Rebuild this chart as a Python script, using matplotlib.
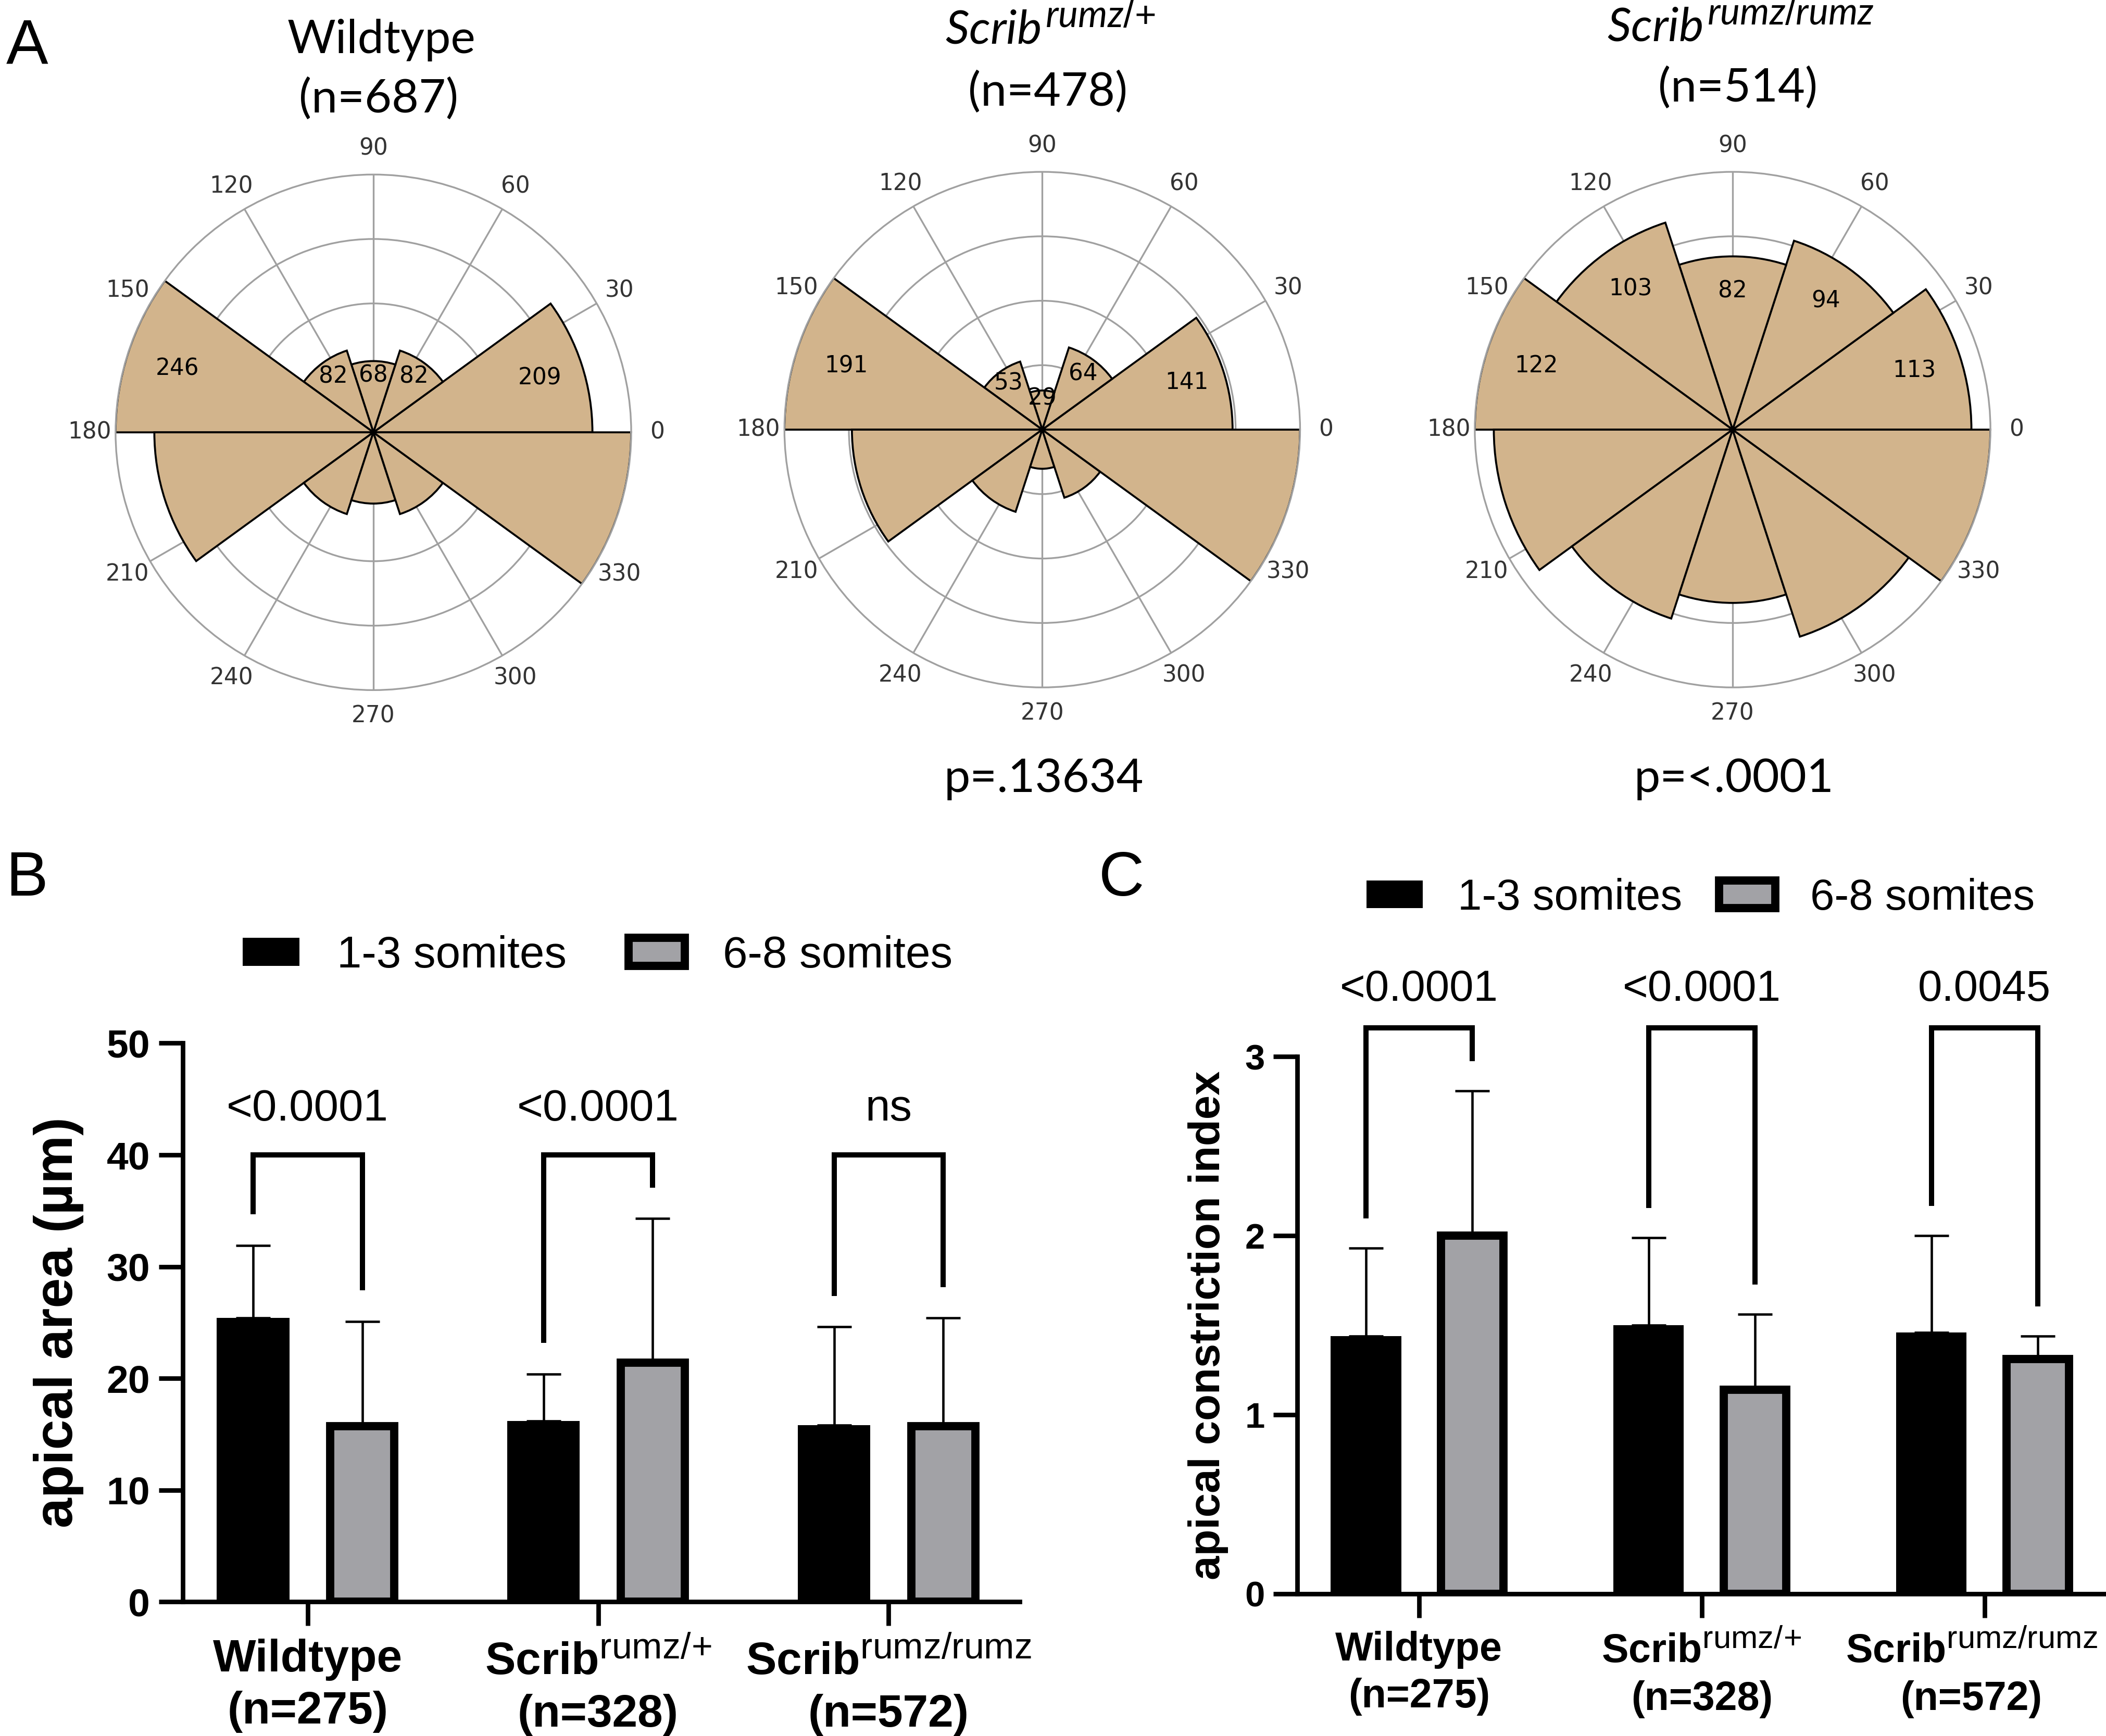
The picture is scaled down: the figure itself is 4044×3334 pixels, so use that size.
#libraries
import numpy as np
import matplotlib.pyplot as plt
import matplotlib._mathtext as mathtext_mod
from matplotlib.transforms import ScaledTranslation

#bigger superscripts, closer to the original figure
mathtext_mod.SHRINK_FACTOR = 0.8

plt.rcParams['font.family'] = 'Liberation Sans'
plt.rcParams['mathtext.fontset'] = 'custom'
plt.rcParams['mathtext.rm'] = 'Liberation Sans'
plt.rcParams['mathtext.bf'] = 'Liberation Sans:bold'
plt.rcParams['mathtext.it'] = 'Lato:italic'

#rose data (cell counts per 36 deg bin, 0-180, mirrored onto 180-360)
bin_left = [0, 36, 72, 108, 144]
wt_counts = [209, 82, 68, 82, 246]
het_counts = [141, 64, 29, 53, 191]
hom_counts = [113, 94, 82, 103, 122]
rose_titles = ['Wildtype', r'$\mathit{Scrib}^{\mathit{rumz/\!+}}$', r'$\mathit{Scrib}^{\mathit{rumz/rumz}}$']
rose_n = [687, 478, 514]
rose_p = ['', 'p=.13634', 'p=<.0001']

#bar data
genotypes = ['Wildtype', r'$\mathbf{Scrib}^{\mathrm{rumz/\!+}}$', r'$\mathbf{Scrib}^{\mathrm{rumz/rumz}}$']
genotype_n = [275, 328, 572]
stages = ['1-3 somites', '6-8 somites']

area_early = [25.4, 16.2, 15.8]
area_early_sd = [6.5, 4.2, 8.8]
area_late = [15.7, 21.4, 15.7]
area_late_sd = [9.4, 12.9, 9.7]
area_p = ['<0.0001', '<0.0001', 'ns']

aci_early = [1.44, 1.50, 1.46]
aci_early_sd = [0.49, 0.49, 0.54]
aci_late = [2.0, 1.14, 1.31]
aci_late_sd = [0.81, 0.42, 0.13]
aci_p = ['<0.0001', '<0.0001', '0.0045']

#layout helpers (positions measured on a 1568 x 1293 grid)
W, H = 1568, 1293
TAN = '#D2B48C'
GREY = '#A2A2A6'


def rect(x0, y0, x1, y1):
    return [x0 / W, 1 - y1 / H, (x1 - x0) / W, (y1 - y0) / H]


def fxy(x, y):
    return x / W, 1 - y / H


fig = plt.figure(figsize=(4044 / 300, 3334 / 300), dpi=300)

#panel A
centers = [(278, 322), (776, 320), (1290, 320)]
all_counts = [wt_counts, het_counts, hom_counts]
title_y = [(28, 73), (20, 68), (18, 65)]
for i in range(3):
    cx, cy = centers[i]
    ax = fig.add_axes(rect(cx - 192, cy - 192, cx + 192, cy + 192), projection='polar')
    counts = np.array(all_counts[i])
    rmax = counts.max()
    theta = np.deg2rad(np.concatenate([bin_left, np.array(bin_left) + 180]))
    ax.bar(theta, np.concatenate([counts, counts]), width=np.deg2rad(36), align='edge',
           color=TAN, edgecolor='black', linewidth=0.9, zorder=2)
    for left, c in zip(bin_left, counts):
        ax.text(np.deg2rad(left + 18), 0.8 * c, str(c), ha='center', va='center',
                fontsize=10.5, family='DejaVu Sans', zorder=3)
    ax.set_ylim(0, rmax)
    ax.set_yticks(rmax * np.array([0.25, 0.5, 0.75]))
    ax.set_yticklabels([])
    ax.set_thetagrids(np.arange(0, 360, 30), labels=[str(a) for a in range(0, 360, 30)],
                      fontsize=10.5, family='DejaVu Sans', color='#333333')
    ax.tick_params(axis='x', pad=1.5)
    ax.grid(color='#A0A0A0', linewidth=0.8)
    ax.spines['polar'].set_color('#A0A0A0')
    ax.spines['polar'].set_linewidth(0.8)
    ax.set_axisbelow(True)

    tx = cx + 6
    fig.text(*fxy(tx, title_y[i][0] + 2), rose_titles[i], ha='center', va='center', fontsize=21.5, family='Lato')
    fig.text(*fxy(cx + 4, title_y[i][1] + 1), '(n=%d)' % rose_n[i], ha='center', va='center', fontsize=21.5, family='Lato')
    if rose_p[i]:
        fig.text(*fxy(cx + 1, 580), rose_p[i], ha='center', va='center', fontsize=21.5, family='Lato')

fig.text(*fxy(20, 35), 'A', ha='center', va='center', fontsize=29)
fig.text(*fxy(20, 655), 'B', ha='center', va='center', fontsize=29)
fig.text(*fxy(835, 655), 'C', ha='center', va='center', fontsize=29)


def bar_panel(ax, early, early_sd, late, late_sd, pvals, ymax, yticks, bracket_y, label_y,
              tick_fs, label_fs, p_fs):
    x = np.arange(3)
    off = 0.188
    b1 = ax.bar(x - off, early, width=0.25, color='black', edgecolor='black', linewidth=0, zorder=2)
    b2 = ax.bar(x + off, late, width=0.221, color=GREY, edgecolor='black', linewidth=3.8, zorder=2)
    ax.errorbar(x - off, early, yerr=[np.zeros(3), early_sd], fmt='none', ecolor='black',
                elinewidth=1.1, capsize=8, capthick=1.1, zorder=1)
    ax.errorbar(x + off, late, yerr=[np.zeros(3), late_sd], fmt='none', ecolor='black',
                elinewidth=1.1, capsize=8, capthick=1.1, zorder=1)
    gap = 0.06 * ymax
    for k in range(3):
        lo1 = early[k] + early_sd[k] + gap
        lo2 = late[k] + late_sd[k] + gap
        ax.plot([k - off, k - off, k + off, k + off], [lo1, bracket_y, bracket_y, lo2],
                color='black', linewidth=2.4, clip_on=False, solid_joinstyle='miter')
        ax.text(k, label_y, pvals[k], ha='center', va='center', fontsize=p_fs, clip_on=False)
    ax.set_ylim(0, ymax)
    ax.set_xlim(-0.43, 2.45)
    ax.set_yticks(yticks)
    ax.set_yticklabels([str(t) for t in yticks], fontsize=label_fs, fontweight='bold')
    ax.set_xticks(x)
    ax.set_xticklabels(['%s\n(n=%d)' % (g, n) for g, n in zip(genotypes, genotype_n)],
                       fontsize=tick_fs, fontweight='bold', linespacing=1.3)
    for s in ['top', 'right']:
        ax.spines[s].set_visible(False)
    for s in ['left', 'bottom']:
        ax.spines[s].set_linewidth(2.1)
    ax.tick_params(axis='both', width=2.1, length=11, pad=4)
    ax.tick_params(axis='x', pad=6)
    return b1, b2


#panel B
axB = fig.add_axes(rect(136, 777, 759, 1193))
b1, b2 = bar_panel(axB, area_early, area_early_sd, area_late, area_late_sd, area_p,
                   50, [0, 10, 20, 30, 40, 50], 40.0, 44.1, 21, 18, 20.5)
axB.set_ylabel('apical area (µm)', fontsize=25, fontweight='bold')
axB.yaxis.set_label_coords(-0.118, 0.5)
fig.legend([b1, b2], stages, loc='center', bbox_to_anchor=fxy(445, 712), ncol=2, frameon=False,
           fontsize=20.5, handlelength=1.27, handleheight=0.6, handletextpad=0.85, columnspacing=1.39)

#panel C
axC = fig.add_axes(rect(966, 787, 1568, 1187))
c1, c2 = bar_panel(axC, aci_early, aci_early_sd, aci_late, aci_late_sd, aci_p,
                   3, [0, 1, 2, 3], 3.16, 3.375, 18.5, 16.5, 20)
axC.set_xlim(-0.43, 2.43)
axC.set_ylabel('apical constriction index', fontsize=20, fontweight='bold')
axC.yaxis.set_label_coords(-0.085, 0.5)
fig.legend([c1, c2], stages, loc='center', bbox_to_anchor=fxy(1266, 669), ncol=2, frameon=False,
           fontsize=20, handlelength=1.3, handleheight=0.6, handletextpad=0.8, columnspacing=0.85)

#last label of C runs into the page edge; nudge it left a little
last = axC.get_xticklabels()[2]
last.set_transform(last.get_transform() + ScaledTranslation(-6 / 72, 0, fig.dpi_scale_trans))

fig.savefig('out.png', dpi=300)
